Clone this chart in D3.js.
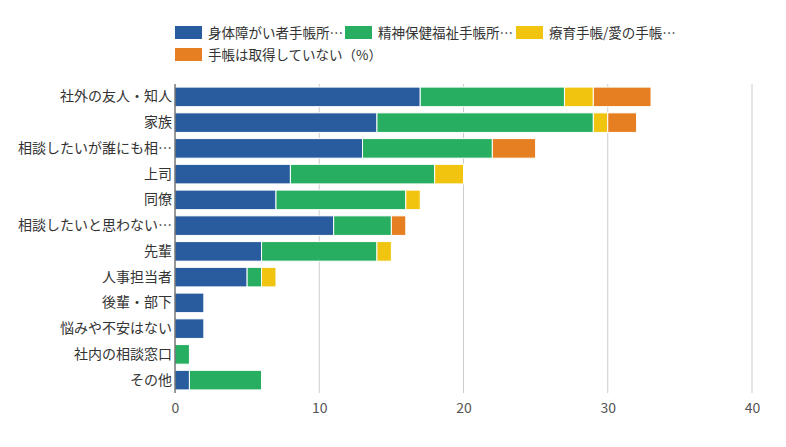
<!DOCTYPE html>
<html><head><meta charset="utf-8">
<script src="https://cdn.jsdelivr.net/npm/d3@7"></script>
<style>
html,body{margin:0;padding:0;background:#fff;}
text{font-family:"Noto Sans CJK JP","Noto Sans",sans-serif;}
</style></head>
<body><svg id="c" width="786" height="447"></svg>
<script>
const categories = ["社外の友人・知人","家族","相談したいが誰にも相…","上司","同僚","相談したいと思わない…","先輩","人事担当者","後輩・部下","悩みや不安はない","社内の相談窓口","その他"];
const seriesNames = ["身体障がい者手帳所…","精神保健福祉手帳所…","療育手帳/愛の手帳…","手帳は取得していない（%）"];
const physical = [17,14,13,8,7,11,6,5,2,2,0,1];
const mental   = [10,15,9,10,9,4,8,1,0,0,1,5];
const ryoiku   = [2,1,0,2,1,0,1,1,0,0,0,0];
const none     = [4,2,3,0,0,1,0,0,0,0,0,0];
const xTicks = [0,10,20,30,40];
const colors = ["#295c9f","#27ae60","#f1c40f","#e67e22"];

const svg = d3.select("#c");
const x = d3.scaleLinear().domain([0,40]).range([175,752]);
const y = d3.scaleBand().domain(categories).range([84,393]).paddingInner(0.24).paddingOuter(0.12);

const rows = categories.map((c,i)=>({cat:c, v:[physical[i],mental[i],ryoiku[i],none[i]]}));
const stack = d3.stack().keys([0,1,2,3]).value((d,k)=>d.v[k]);
const layers = stack(rows);

// grid
svg.append("g").selectAll("line").data(xTicks.filter(t=>t>0)).join("line")
  .attr("x1",d=>x(d)).attr("x2",d=>x(d)).attr("y1",84).attr("y2",393)
  .attr("stroke","#cccccc").attr("stroke-width",1);

// bars
svg.append("g").selectAll("g").data(layers).join("g")
  .attr("fill",(d,i)=>colors[i])
  .selectAll("rect").data(d=>d.filter(s=>s[1]-s[0]>0)).join("rect")
  .attr("x",d=>x(d[0])).attr("width",d=>x(d[1])-x(d[0]))
  .attr("y",d=>y(d.data.cat)).attr("height",y.bandwidth())
  .attr("stroke","#ffffff").attr("stroke-width",1);

// y axis
const ya = svg.append("g").attr("transform","translate(175,0)").call(d3.axisLeft(y).tickSize(0).tickPadding(3));
ya.select(".domain").attr("stroke","#333").attr("d","M0,84V393");
ya.selectAll("text").attr("font-size",14).attr("fill","#333");

// x axis
const xa = svg.append("g").attr("transform","translate(0,393)").call(d3.axisBottom(x).tickValues(xTicks).tickSize(0).tickPadding(10));
xa.select(".domain").remove();
xa.selectAll("text").attr("font-size",14).attr("fill","#555");

// legend
const legPos = [[175,26],[345,26],[516,26],[175,48]];
const lg = svg.append("g").selectAll("g").data(seriesNames).join("g")
  .attr("transform",(d,i)=>`translate(${legPos[i][0]},${legPos[i][1]})`);
lg.append("rect").attr("width",27).attr("height",13).attr("fill",(d,i)=>colors[i]);
lg.append("text").attr("x",33).attr("y",11.5).attr("font-size",13.5).attr("fill","#333").text(d=>d);
</script></body></html>
